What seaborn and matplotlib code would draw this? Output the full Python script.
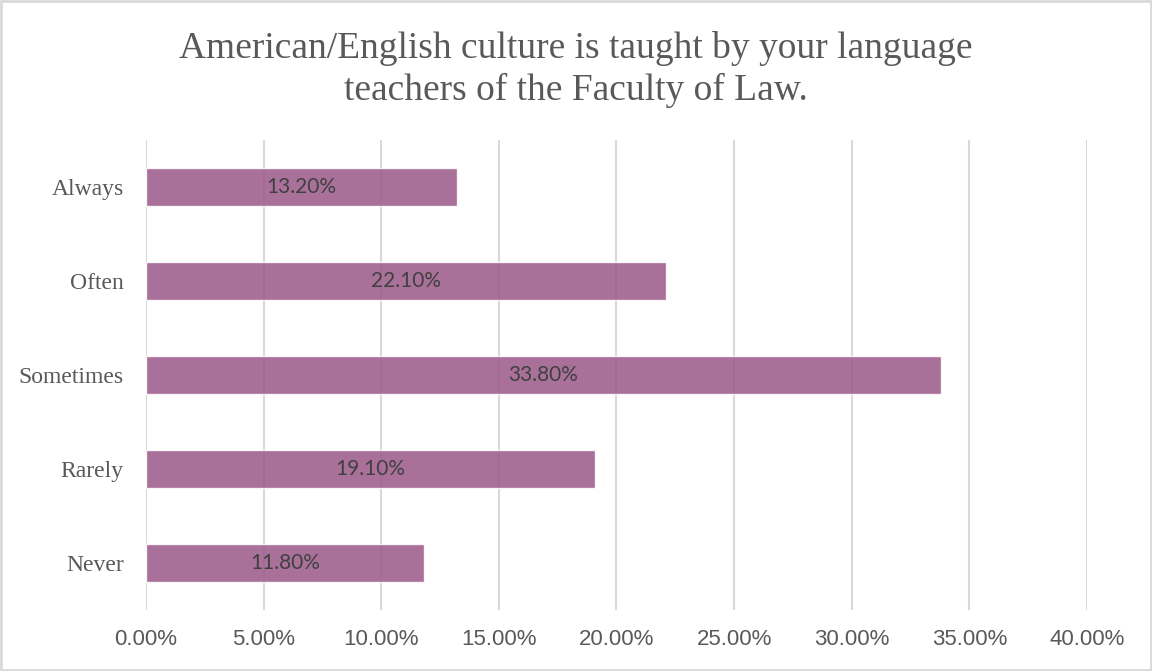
import matplotlib
matplotlib.use("Agg")
import matplotlib.pyplot as plt
import seaborn as sns
import pandas as pd
from matplotlib.ticker import FuncFormatter
from matplotlib.patches import Rectangle

categories = ["Always", "Often", "Sometimes", "Rarely", "Never"]
shares = [13.20, 22.10, 33.80, 19.10, 11.80]
x_ticks = [0, 5, 10, 15, 20, 25, 30, 35, 40]

df = pd.DataFrame({"answer": categories, "share": shares})

sns.set_theme(style="white")
plt.rcParams["font.family"] = ["Liberation Serif", "DejaVu Serif"]

fig = plt.figure(figsize=(11.52, 6.71), dpi=100)
ax = fig.add_axes([0.1267, 0.0909, 0.8169, 0.7005])

sns.barplot(data=df, x="share", y="answer", order=categories, orient="h",
            color="#9a5889", alpha=0.85, width=0.4, ax=ax, zorder=3,
            saturation=1)

ax.set_xlim(x_ticks[0], x_ticks[-1])
ax.set_ylim(4.5, -0.5)
ax.set_xticks(x_ticks)
ax.xaxis.set_major_formatter(FuncFormatter(lambda v, p: f"{v:.2f}%"))
ax.grid(axis="x", color="#d9d9d9", linewidth=1.5, zorder=0)
ax.grid(axis="y", visible=False)
ax.set_axisbelow(True)
for s in ax.spines.values():
    s.set_visible(False)
ax.set_xlabel("")
ax.set_ylabel("")
ax.tick_params(axis="both", length=0)
ax.tick_params(axis="x", pad=14)
ax.tick_params(axis="y", pad=16)

for lbl in ax.get_xticklabels():
    lbl.set_family(["Liberation Sans Narrow", "Liberation Sans", "DejaVu Sans"])
    lbl.set_fontsize(16)
    lbl.set_color("#595959")
for lbl in ax.get_yticklabels():
    lbl.set_fontsize(17)
    lbl.set_color("#595959")

for i, v in enumerate(shares):
    ax.text(v / 2, i, f"{v:.2f}%", ha="center", va="center",
            fontsize=15, color="#404040", zorder=5,
            family=["Lato", "DejaVu Sans"])

fig.text(0.5, 0.896, "American/English culture is taught by your language\nteachers of the Faculty of Law.",
         ha="center", va="center", fontsize=27, color="#595959",
         linespacing=1.24)

fig.patches.append(Rectangle((0.001, 0.001), 0.998, 0.997, transform=fig.transFigure,
                             fill=False, edgecolor="#d9d9d9", linewidth=2))

fig.savefig("out.png", dpi=100)
